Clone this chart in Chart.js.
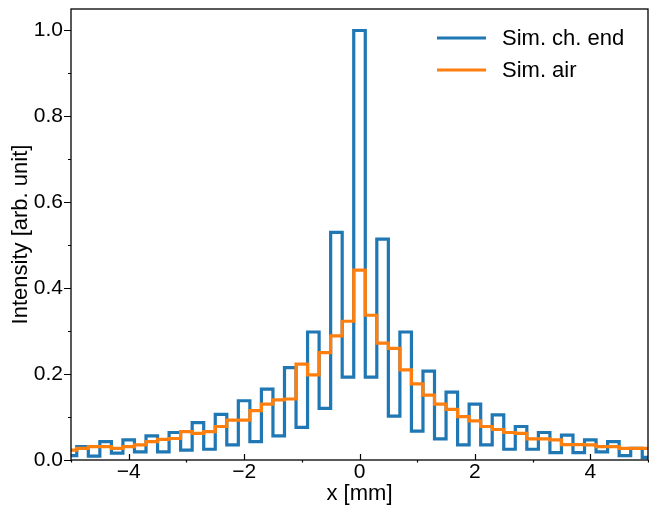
<!DOCTYPE html>
<html>
<head>
<meta charset="utf-8">
<script src="https://cdn.jsdelivr.net/npm/chart.js@4/dist/chart.umd.min.js"></script>
<style>
  html, body { margin: 0; padding: 0; background: #fff; }
  #wrap { width: 649px; height: 510px; }
</style>
</head>
<body>
<div id="wrap"><canvas id="myChart" width="649" height="510"></canvas></div>
<script>
// bin centres (mm), bin width 0.2
var binCenters = [
  -5.0, -4.8, -4.6, -4.4, -4.2, -4.0, -3.8, -3.6, -3.4, -3.2, -3.0,
  -2.8, -2.6, -2.4, -2.2, -2.0, -1.8, -1.6, -1.4, -1.2, -1.0,
  -0.8, -0.6, -0.4, -0.2, 0.0, 0.2, 0.4, 0.6, 0.8, 1.0,
  1.2, 1.4, 1.6, 1.8, 2.0, 2.2, 2.4, 2.6, 2.8, 3.0,
  3.2, 3.4, 3.6, 3.8, 4.0, 4.2, 4.4, 4.6, 4.8, 5.0
];

var chEnd = [
  0.010, 0.031, 0.009, 0.043, 0.016, 0.047, 0.019, 0.056, 0.019, 0.064, 0.023,
  0.087, 0.025, 0.106, 0.035, 0.138, 0.043, 0.165, 0.056, 0.215, 0.076,
  0.298, 0.120, 0.530, 0.193, 1.000, 0.193, 0.514, 0.102, 0.298, 0.067,
  0.207, 0.049, 0.158, 0.035, 0.130, 0.035, 0.105, 0.025, 0.078, 0.025,
  0.064, 0.017, 0.058, 0.017, 0.047, 0.019, 0.043, 0.010, 0.027, 0.006
];

var air = [
  0.023, 0.027, 0.031, 0.031, 0.027, 0.031, 0.035, 0.043, 0.048, 0.050, 0.066,
  0.062, 0.066, 0.078, 0.093, 0.093, 0.115, 0.130, 0.140, 0.142, 0.223,
  0.198, 0.250, 0.289, 0.323, 0.442, 0.337, 0.272, 0.260, 0.210, 0.177,
  0.151, 0.130, 0.118, 0.101, 0.091, 0.078, 0.071, 0.064, 0.062, 0.049,
  0.049, 0.047, 0.036, 0.036, 0.035, 0.031, 0.031, 0.027, 0.027, 0.027
];

var xTicks = [-4, -2, 0, 2, 4];
var xMinor = [-5, -3, -1, 1, 3, 5];
var yTicks = [0.0, 0.2, 0.4, 0.6, 0.8, 1.0];
var yMinor = [0.1, 0.3, 0.5, 0.7, 0.9];

var FONT = "'Liberation Sans', Arial, sans-serif";

function toPoints(vals) {
  return binCenters.map(function (c, i) { return { x: c, y: vals[i] }; });
}

function fmt(v, digits) {
  var s = Math.abs(v).toFixed(digits);
  return v < 0 ? "\u2212" + s : s;
}

// spines, tick marks and the legend, matplotlib style
var decor = {
  id: "decor",
  afterDatasetsDraw: function (chart) {
    var ctx = chart.ctx, a = chart.chartArea;
    var xs = chart.scales.x, ys = chart.scales.y;
    ctx.save();
    ctx.strokeStyle = "#000";
    ctx.lineWidth = 1.3;
    ctx.strokeRect(a.left, a.top, a.right - a.left, a.bottom - a.top);

    ctx.lineWidth = 1.2;
    ctx.beginPath();
    xTicks.forEach(function (v) {
      var p = Math.round(xs.getPixelForValue(v)) + 0.5;
      ctx.moveTo(p, a.bottom); ctx.lineTo(p, a.bottom - 6);
    });
    xMinor.forEach(function (v) {
      var p = Math.round(xs.getPixelForValue(v)) + 0.5;
      ctx.moveTo(p, a.bottom); ctx.lineTo(p, a.bottom + 2.5);
    });
    yTicks.forEach(function (v) {
      var p = Math.round(ys.getPixelForValue(v)) + 0.5;
      ctx.moveTo(a.left, p); ctx.lineTo(a.left - 7, p);
    });
    yMinor.forEach(function (v) {
      var p = Math.round(ys.getPixelForValue(v)) + 0.5;
      ctx.moveTo(a.left, p); ctx.lineTo(a.left - 3, p);
    });
    ctx.stroke();

    // legend
    ctx.font = "22px " + FONT;
    ctx.textBaseline = "middle";
    ctx.textAlign = "left";
    chart.data.datasets.forEach(function (ds, i) {
      var y = 38 + i * 32;
      ctx.strokeStyle = ds.borderColor;
      ctx.lineWidth = 3;
      ctx.beginPath();
      ctx.moveTo(437, y); ctx.lineTo(486, y);
      ctx.stroke();
      ctx.fillStyle = "#000";
      ctx.fillText(ds.label, 502, y + 1);
    });
    ctx.restore();
  }
};

var ctx = document.getElementById("myChart").getContext("2d");

var myChart = new Chart(ctx, {
  type: "line",
  data: {
    datasets: [
      {
        label: "Sim. ch. end",
        data: toPoints(chEnd),
        borderColor: "#1f77b4",
        backgroundColor: "#1f77b4",
        borderWidth: 3.2,
        stepped: "middle",
        pointRadius: 0,
        fill: false,
        clip: 0,
        order: 2
      },
      {
        label: "Sim. air",
        data: toPoints(air),
        borderColor: "#ff7f0e",
        backgroundColor: "#ff7f0e",
        borderWidth: 3.2,
        stepped: "middle",
        pointRadius: 0,
        fill: false,
        clip: 0,
        order: 1
      }
    ]
  },
  options: {
    responsive: false,
    animation: false,
    layout: { padding: { left: 0, right: 1, top: 9, bottom: 0 } },
    plugins: {
      legend: { display: false },
      tooltip: { enabled: false }
    },
    scales: {
      x: {
        type: "linear",
        min: -5,
        max: 5,
        grid: { display: false, drawTicks: false },
        border: { display: false },
        afterBuildTicks: function (s) { s.ticks = xTicks.map(function (v) { return { value: v }; }); },
        afterFit: function (s) { s.height = 50; s.paddingLeft = 0; s.paddingRight = 0; },
        ticks: {
          color: "#000",
          padding: 0,
          maxRotation: 0,
          font: { family: FONT, size: 21 },
          callback: function (v) { return fmt(v, 0); }
        },
        title: {
          display: true,
          text: "x [mm]",
          color: "#000",
          font: { family: FONT, size: 22 },
          padding: { top: 0, bottom: 3 }
        }
      },
      y: {
        min: 0,
        max: 1.05,
        grid: { display: false, drawTicks: false },
        border: { display: false },
        afterBuildTicks: function (s) { s.ticks = yTicks.map(function (v) { return { value: v }; }); },
        afterFit: function (s) { s.width = 71; s.paddingTop = 0; s.paddingBottom = 0; },
        ticks: {
          color: "#000",
          padding: 8,
          font: { family: FONT, size: 21 },
          callback: function (v) { return fmt(v, 1); }
        },
        title: {
          display: true,
          text: "Intensity [arb. unit]",
          color: "#000",
          font: { family: FONT, size: 22 },
          padding: { top: 8, bottom: 0 }
        }
      }
    }
  },
  plugins: [decor]
});
</script>
</body>
</html>
